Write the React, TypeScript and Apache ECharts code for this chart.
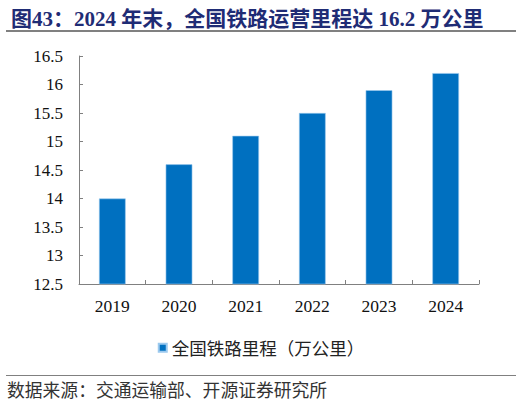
import React, { useEffect, useRef } from "react";
import * as echarts from "echarts";

const categories = ["2019", "2020", "2021", "2022", "2023", "2024"];
const mileage = [14.0, 14.6, 15.1, 15.5, 15.9, 16.2];
const seriesName = "全国铁路里程（万公里）";
const titleText = "图43：2024 年末，全国铁路运营里程达 16.2 万公里";
const sourceText = "数据来源：交通运输部、开源证券研究所";

const SERIF = "'Liberation Serif', 'Noto Sans CJK SC', serif";
const CJK = "'Noto Sans CJK SC', sans-serif";

export default function App() {
  const ref = useRef<HTMLDivElement>(null);
  useEffect(() => {
    document.body.style.margin = "0";
    const chart = echarts.init(ref.current!, null, { renderer: "svg" });
    chart.setOption({
      animation: false,
      backgroundColor: "#ffffff",
      title: {
        text: titleText,
        left: 6,
        top: 3,
        textStyle: {
          fontFamily: SERIF,
          fontWeight: "bold",
          fontSize: 21,
          color: "#1F2C75",
        },
      },
      graphic: [
        {
          type: "line",
          shape: { x1: 6, y1: 31, x2: 516, y2: 31 },
          style: { stroke: "#808080", lineWidth: 2 },
        },
        {
          type: "line",
          shape: { x1: 6, y1: 375.5, x2: 516, y2: 375.5 },
          style: { stroke: "#808080", lineWidth: 1 },
        },
        {
          type: "text",
          left: 7,
          top: 380,
          style: {
            text: sourceText,
            font: "17.8px " + CJK,
            fill: "#333333",
          },
        },
      ],
      legend: {
        data: [seriesName],
        left: "center",
        top: 334,
        icon: "rect",
        itemWidth: 8,
        itemHeight: 8,
        itemGap: 6,
        textStyle: { fontFamily: CJK, fontSize: 17.5, color: "#222222" },
      },
      grid: { left: 79, top: 56, right: 43, bottom: 121 },
      xAxis: {
        type: "category",
        data: categories,
        axisLine: { lineStyle: { color: "#808080", width: 1 } },
        axisTick: { show: true, inside: true, length: 4, alignWithLabel: false, lineStyle: { color: "#808080" } },
        axisLabel: { fontFamily: SERIF, fontSize: 17.5, color: "#111111", margin: 13 },
      },
      yAxis: {
        type: "value",
        min: 12.5,
        max: 16.5,
        interval: 0.5,
        splitLine: { show: false },
        axisLine: { show: true, lineStyle: { color: "#808080", width: 1 } },
        axisTick: { show: true, inside: true, length: 4, lineStyle: { color: "#808080" } },
        axisLabel: { fontFamily: SERIF, fontSize: 17, color: "#111111", margin: 16 },
      },
      series: [
        {
          name: seriesName,
          type: "bar",
          data: mileage,
          barWidth: "40%",
          itemStyle: { color: "#0070C0", borderColor: "#9CC9EE", borderWidth: 0.6 },
        },
      ],
    });
    return () => chart.dispose();
  }, []);
  return <div ref={ref} style={{ width: 522, height: 405 }} />;
}
